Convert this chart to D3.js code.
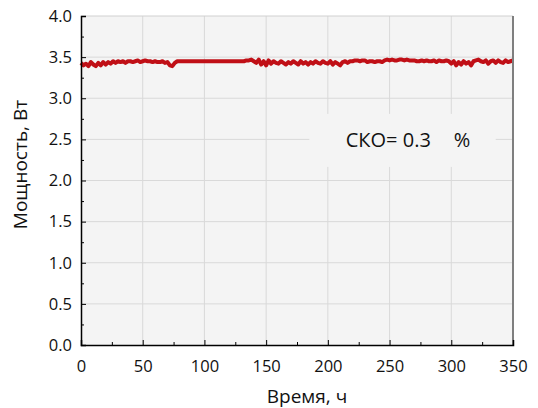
<!DOCTYPE html>
<html>
<head>
<meta charset="utf-8">
<script src="https://cdn.jsdelivr.net/npm/d3@7"></script>
<style>
    body { margin: 0; background: #fff; }
    text { font-family: "Open Sans", "Noto Sans", sans-serif; fill: #111; }
</style>
</head>
<body>
<div id="chart"></div>
<script>

// time step, h
var timeStep = 2;

// power, W (one reading every 2 h from 0 to 350 h)
var power = [
    3.43, 3.40, 3.42, 3.39, 3.44, 3.41, 3.39, 3.43, 3.40, 3.44,
    3.41, 3.44, 3.42, 3.45, 3.43, 3.45, 3.44, 3.45, 3.43, 3.45,
    3.45, 3.44, 3.45, 3.46, 3.44, 3.45, 3.46, 3.45, 3.45, 3.44,
    3.45, 3.44, 3.44, 3.45, 3.43, 3.44, 3.40, 3.39, 3.43, 3.45,
    3.45, 3.45, 3.45, 3.45, 3.45, 3.45, 3.45, 3.45, 3.45, 3.45,
    3.45, 3.45, 3.45, 3.45, 3.45, 3.45, 3.45, 3.45, 3.45, 3.45,
    3.45, 3.45, 3.45, 3.45, 3.45, 3.45, 3.45, 3.46, 3.46, 3.47,
    3.45, 3.43, 3.47, 3.41, 3.45, 3.40, 3.46, 3.42, 3.45, 3.43,
    3.42, 3.45, 3.43, 3.41, 3.44, 3.42, 3.45, 3.43, 3.41, 3.45,
    3.42, 3.44, 3.41, 3.44, 3.42, 3.45, 3.43, 3.42, 3.45, 3.43,
    3.42, 3.45, 3.41, 3.44, 3.42, 3.40, 3.44, 3.45, 3.43, 3.45,
    3.45, 3.46, 3.46, 3.45, 3.46, 3.46, 3.44, 3.45, 3.45, 3.44,
    3.45, 3.45, 3.44, 3.46, 3.47, 3.46, 3.47, 3.46, 3.46, 3.47,
    3.47, 3.46, 3.47, 3.46, 3.46, 3.46, 3.45, 3.45, 3.46, 3.45,
    3.46, 3.45, 3.45, 3.46, 3.44, 3.46, 3.45, 3.45, 3.46, 3.45,
    3.42, 3.45, 3.40, 3.44, 3.41, 3.45, 3.42, 3.44, 3.40, 3.45,
    3.46, 3.47, 3.45, 3.44, 3.46, 3.42, 3.45, 3.46, 3.43, 3.46,
    3.44, 3.43, 3.46, 3.44, 3.45, 3.46
];

var xTicks = [ 0, 50, 100, 150, 200, 250, 300, 350 ];
var yTicks = [ 0, 0.5, 1, 1.5, 2, 2.5, 3, 3.5, 4 ];
var xMinor = [ 25, 75, 125, 175, 225, 275, 325 ];
var yMinor = [ 0.25, 0.75, 1.25, 1.75, 2.25, 2.75, 3.25, 3.75 ];

var xLabel = 'Время, ч';
var yLabel = 'Мощность, Вт';
var noteLabel = 'СКО= 0.3';
var noteUnit = '%';

var width = 538,
    height = 408,
    margin = { top: 16, right: 25, bottom: 63, left: 81 };

var innerW = width - margin.left - margin.right,
    innerH = height - margin.top - margin.bottom;

var x = d3.scaleLinear().domain([ 0, 350 ]).range([ 0, innerW ]);
var y = d3.scaleLinear().domain([ 0, 4 ]).range([ innerH, 0 ]);

var svg = d3.select('#chart').append('svg')
    .attr('width', width)
    .attr('height', height);

var g = svg.append('g')
    .attr('transform', 'translate(' + margin.left + ',' + margin.top + ')');

// plot background
g.append('rect')
    .attr('width', innerW)
    .attr('height', innerH)
    .style('fill', '#f4f4f4');

// grid
g.selectAll('.vgrid')
    .data( xTicks.slice( 1, -1 ) )
    .enter().append('line')
    .attr('x1', function ( d ) { return x( d ) })
    .attr('x2', function ( d ) { return x( d ) })
    .attr('y1', 0)
    .attr('y2', innerH)
    .style('stroke', '#d9d9d9');

g.selectAll('.hgrid')
    .data( yTicks.slice( 1, -1 ) )
    .enter().append('line')
    .attr('x1', 0)
    .attr('x2', innerW)
    .attr('y1', function ( d ) { return y( d ) })
    .attr('y2', function ( d ) { return y( d ) })
    .style('stroke', '#d9d9d9');

// note box hides the grid behind it
g.append('rect')
    .attr('x', x( 185 ))
    .attr('y', y( 2.81 ))
    .attr('width', x( 151 ))
    .attr('height', y( 4 - 0.645 ))
    .style('fill', '#f4f4f4');

var note = g.append('text')
    .attr('y', y( 2.5 ))
    .attr('dy', '0.36em')
    .style('font-size', '20px');

note.append('tspan')
    .attr('x', x( 214.5 ))
    .text( noteLabel );

note.append('tspan')
    .attr('x', x( 302 ))
    .text( noteUnit );

// data line
var line = d3.line()
    .x( function ( d, i ) { return x( i * timeStep ) })
    .y( function ( d ) { return y( d ) });

g.append('path')
    .datum( power )
    .attr('d', line)
    .style('fill', 'none')
    .style('stroke', '#c00f16')
    .style('stroke-width', 4)
    .style('stroke-linejoin', 'round');

// frame
g.append('line')
    .attr('x1', 0).attr('x2', innerW)
    .attr('y1', 0).attr('y2', 0)
    .style('stroke', '#d0d0d0');

g.append('line')
    .attr('x1', innerW).attr('x2', innerW)
    .attr('y1', 0).attr('y2', innerH)
    .style('stroke', '#7f7f7f')
    .style('stroke-width', 2);

// axes
var xAxis = g.append('g')
    .attr('transform', 'translate(0,' + innerH + ')')
    .call( d3.axisBottom( x ).tickValues( xTicks ).tickSize( -5 ).tickPadding( 15 ).tickFormat( d3.format('d') ) );

xAxis.selectAll('.tick')
    .filter( function ( d, i ) { return i === 0 || i === xTicks.length - 1 })
    .select('line').remove();

g.append('g')
    .attr('transform', 'translate(0,' + innerH + ')')
    .call( d3.axisBottom( x ).tickValues( xMinor ).tickSize( -3 ).tickFormat('') )
    .select('.domain').remove();

g.append('g')
    .call( d3.axisLeft( y ).tickValues( yTicks ).tickSize( -5 ).tickPadding( 9 ).tickFormat( d3.format('.1f') ) );

g.append('g')
    .call( d3.axisLeft( y ).tickValues( yMinor ).tickSize( -3 ).tickFormat('') )
    .select('.domain').remove();

svg.selectAll('.domain')
    .style('stroke', '#000')
    .style('stroke-width', 1.5);

svg.selectAll('.tick line')
    .style('stroke', '#000');

svg.selectAll('.tick text')
    .style('font-size', '16.5px')
    .style('font-family', '"Open Sans", "Noto Sans", sans-serif')
    .style('fill', '#111');

// axis titles
svg.append('text')
    .attr('x', margin.left + innerW / 2 + 10)
    .attr('y', 403)
    .attr('text-anchor', 'middle')
    .style('font-size', '19px')
    .text( xLabel );

svg.append('text')
    .attr('transform', 'translate(27,' + ( margin.top + innerH / 2 - 16 ) + ') rotate(-90)')
    .attr('text-anchor', 'middle')
    .style('font-size', '19px')
    .text( yLabel );

</script>
</body>
</html>
